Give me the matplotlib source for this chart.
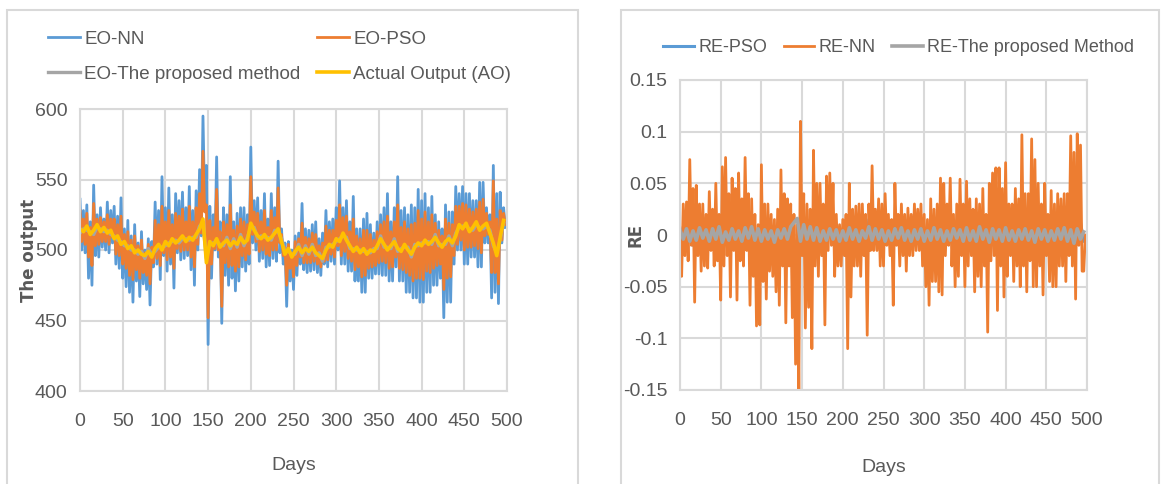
import numpy as np
import matplotlib
matplotlib.use("Agg")
import matplotlib.pyplot as plt
from matplotlib.patches import Rectangle

# smooth series read every 4 days (0, 4, ..., 496)
ao = [515, 513, 517, 511, 514, 518, 513, 516, 512, 514, 508, 510, 504, 506, 501, 503, 498, 500, 497, 496,
      499, 495, 501, 504, 500, 506, 503, 508, 505, 507, 510, 506, 509, 507, 511, 515, 522, 491, 506, 503,
      508, 502, 505, 507, 503, 506, 504, 509, 505, 507, 519, 514, 510, 508, 511, 507, 509, 512, 515, 506,
      497, 501, 495, 499, 502, 498, 501, 499, 502, 498, 496, 494, 500, 504, 502, 508, 506, 512, 507, 503,
      499, 502, 498, 501, 497, 500, 499, 503, 508, 504, 500, 503, 506, 501, 499, 504, 500, 497, 502, 505,
      503, 507, 504, 506, 509, 505, 502, 506, 508, 505, 510, 518, 515, 519, 513, 516, 520, 514, 517, 519,
      512, 505, 496, 509, 521]
eo_prop = [512, 515, 514, 513, 511, 516, 515, 513, 514, 511, 510, 507, 506, 503, 503, 500, 500, 497, 499, 494,
           501, 497, 499, 502, 502, 503, 505, 506, 507, 505, 508, 508, 507, 509, 509, 517, 519, 494, 504, 505,
           506, 504, 503, 509, 501, 508, 502, 511, 503, 509, 516, 516, 508, 510, 509, 509, 507, 514, 513, 508,
           499, 499, 497, 497, 504, 496, 503, 497, 504, 496, 498, 492, 502, 502, 504, 506, 508, 510, 509, 501,
           501, 500, 500, 499, 499, 498, 501, 501, 510, 502, 502, 501, 508, 499, 501, 502, 502, 495, 504, 503,
           505, 505, 506, 504, 511, 503, 504, 504, 510, 503, 512, 516, 517, 517, 515, 514, 518, 516, 515, 517,
           514, 503, 498, 507, 519]

# spiky series read every 2 days (0, 2, ..., 498)
eo_nn = [536, 500, 528, 498, 532, 480, 520, 475, 546, 496, 525, 495, 530, 502, 522, 500, 534, 498, 528, 505,
         531, 490, 524, 487, 537, 480, 515, 474, 521, 470, 510, 463, 518, 478, 505, 467, 513, 476, 500, 472,
         508, 461, 506, 488, 534, 490, 528, 479, 552, 496, 530, 485, 544, 490, 525, 473, 540, 498, 535, 493,
         541, 494, 530, 496, 545, 486, 528, 475, 542, 500, 557, 510, 595, 530, 560, 433, 531, 480, 525, 500,
         566, 495, 520, 448, 530, 482, 525, 475, 552, 480, 520, 471, 526, 478, 530, 488, 530, 485, 525, 490,
         573, 505, 535, 500, 537, 492, 528, 494, 540, 488, 522, 489, 540, 494, 530, 492, 563, 498, 515, 490,
         505, 460, 506, 478, 500, 472, 510, 482, 512, 490, 533, 486, 515, 484, 514, 485, 518, 486, 520, 484,
         508, 482, 512, 490, 528, 488, 520, 492, 522, 490, 530, 500, 549, 490, 530, 490, 535, 485, 520, 485,
         538, 478, 515, 478, 515, 470, 522, 470, 526, 480, 518, 480, 512, 483, 520, 483, 525, 482, 530, 482,
         540, 478, 520, 478, 530, 488, 552, 478, 528, 478, 530, 470, 525, 470, 532, 466, 530, 466, 543, 463,
         535, 463, 540, 470, 530, 470, 538, 475, 525, 475, 520, 480, 515, 452, 532, 463, 527, 463, 527, 490,
         545, 500, 540, 500, 545, 490, 540, 490, 540, 495, 535, 495, 535, 488, 548, 488, 548, 505, 530, 505,
         525, 466, 560, 470, 540, 462, 541, 505, 530, 516]
eo_pso = [528, 506, 522, 504, 526, 495, 516, 489, 533, 503, 522, 504, 523, 506, 520, 506, 525, 504, 522, 509,
          522, 497, 518, 496, 524, 490, 511, 487, 513, 482, 507, 479, 510, 486, 503, 480, 507, 484, 498, 482,
          504, 476, 502, 491, 521, 494, 518, 489, 531, 498, 520, 493, 528, 495, 518, 487, 526, 501, 524, 499,
          529, 500, 520, 500, 531, 495, 520, 488, 530, 504, 540, 512, 570, 527, 532, 452, 521, 490, 516, 501,
          543, 500, 513, 460, 520, 491, 518, 488, 532, 489, 514, 485, 517, 488, 522, 496, 520, 493, 518, 497,
          552, 511, 527, 506, 526, 499, 520, 500, 528, 497, 516, 496, 528, 500, 523, 500, 544, 505, 511, 496,
          502, 475, 504, 487, 498, 481, 506, 489, 508, 495, 519, 491, 509, 491, 508, 491, 512, 492, 511, 490,
          503, 488, 505, 492, 517, 493, 514, 497, 514, 495, 521, 503, 532, 496, 523, 499, 524, 494, 513, 492,
          522, 486, 510, 488, 508, 481, 514, 482, 514, 487, 511, 488, 507, 489, 513, 491, 518, 492, 520, 491,
          524, 487, 513, 488, 520, 495, 532, 487, 516, 486, 520, 484, 515, 482, 518, 478, 519, 480, 528, 480,
          522, 479, 527, 485, 520, 484, 525, 487, 519, 489, 514, 490, 510, 472, 522, 480, 519, 481, 518, 496,
          531, 504, 531, 507, 533, 500, 532, 502, 529, 502, 527, 503, 529, 501, 534, 498, 536, 510, 526, 511,
          520, 484, 549, 484, 522, 476, 528, 507, 526, 518]
re_nn = [-0.030, -0.040, 0.030, -0.020, 0.032, -0.025, 0.073, -0.010, 0.045, -0.065, 0.048, -0.020, 0.030,
         -0.035, 0.030, -0.030, 0.020, -0.032, 0.042, -0.015, 0.025, -0.030, 0.050, -0.025, 0.020, -0.063,
         0.066, -0.030, 0.075, -0.020, 0.040, -0.060, 0.055, -0.015, 0.045, -0.063, 0.060, -0.025, 0.035,
         -0.030, 0.075, -0.015, 0.040, -0.068, 0.035, -0.040, 0.020, -0.088, 0.010, -0.087, 0.068, -0.045,
         0.030, -0.062, 0.030, -0.035, 0.020, -0.040, 0.015, -0.055, 0.025, -0.068, 0.063, -0.030, 0.040,
         -0.085, 0.035, -0.030, 0.030, -0.080, 0.020, -0.125, 0.010, -0.150, 0.110, -0.020, 0.040, -0.090,
         0.030, -0.070, 0.025, -0.110, 0.082, -0.030, 0.050, -0.040, 0.050, -0.020, 0.030, -0.087, 0.057,
         -0.015, 0.060, -0.010, 0.050, -0.040, 0.020, -0.030, 0.010, -0.030, 0.015, -0.020, 0.020, -0.110,
         0.050, -0.060, 0.025, -0.030, 0.028, -0.030, 0.030, -0.040, 0.030, -0.020, 0.020, -0.097, 0.030,
         -0.015, 0.067, -0.015, 0.025, -0.015, 0.035, -0.030, 0.030, -0.030, 0.040, -0.010, 0.020, -0.020,
         0.015, -0.068, 0.050, -0.010, 0.020, -0.030, 0.030, -0.020, 0.020, -0.035, 0.026, -0.020, 0.020,
         -0.020, 0.030, -0.015, 0.025, -0.015, 0.030, -0.030, 0.020, -0.050, 0.015, -0.068, 0.035, -0.045,
         0.025, -0.045, 0.030, -0.055, 0.055, -0.058, 0.050, -0.020, 0.030, -0.010, 0.055, -0.030, 0.020,
         -0.050, 0.030, -0.040, 0.054, -0.020, 0.030, -0.050, 0.052, -0.030, 0.035, -0.020, 0.025, -0.055,
         0.035, -0.040, 0.030, -0.050, 0.045, -0.030, 0.020, -0.094, 0.050, -0.025, 0.060, -0.020, 0.065,
         -0.073, 0.065, -0.030, 0.045, -0.060, 0.070, -0.040, 0.030, -0.020, 0.030, -0.045, 0.045, -0.030,
         0.035, -0.050, 0.097, -0.030, 0.040, -0.055, 0.040, -0.025, 0.093, -0.050, 0.073, -0.050, 0.050,
         -0.030, 0.030, -0.058, 0.050, -0.020, 0.020, -0.045, 0.043, -0.050, 0.030, -0.050, 0.040, -0.030,
         0.035, -0.030, 0.040, -0.045, 0.040, -0.020, 0.096, -0.030, 0.080, -0.062, 0.098, -0.010, 0.087,
         -0.035, -0.035, 0.000]

# small relative errors read every 4 days
re_pso = [-0.025, 0.008, -0.006, 0.012, -0.010, 0.009, -0.007, 0.006, -0.008, 0.010, -0.006, 0.008, -0.010,
          0.011, 0.013, -0.009, 0.010, -0.010, 0.011, -0.005, 0.012, -0.011, 0.006, -0.015, -0.020, 0.011,
          -0.010, 0.005, -0.008, 0.003, -0.012, 0.010, -0.020, 0.006, -0.013, -0.010, -0.025, 0.018, -0.015,
          0.005, 0.015, 0.012, -0.008, 0.008, -0.012, 0.018, 0.022, -0.007, 0.004, -0.005, -0.004, -0.020,
          0.009, -0.005, 0.005, -0.007, 0.005, -0.012, 0.015, 0.011, -0.003, 0.006, -0.005, 0.007, -0.002,
          -0.011, 0.008, -0.005, 0.005, -0.006, 0.004, -0.003, 0.005, -0.003, 0.005, -0.008, -0.011, 0.006,
          -0.007, -0.009, 0.009, 0.008, -0.002, 0.009, -0.008, 0.005, 0.009, -0.008, 0.025, 0.012, -0.009,
          0.006, -0.008, 0.007, -0.015, 0.008, 0.022, -0.012, 0.011, -0.010, 0.011, -0.003, 0.005, 0.007,
          -0.008, 0.016, -0.009, 0.007, 0.015, -0.008, -0.010, -0.010, 0.008, -0.003, 0.007, -0.008, 0.007,
          -0.005, -0.007, 0.007, 0.016, 0.030, 0.020, 0.012, -0.006]
re_prop = [0.005, -0.004, 0.006, -0.006, 0.004, -0.005, 0.007, -0.003, 0.005, -0.006, 0.006, -0.004, 0.008,
           -0.007, 0.003, -0.005, 0.006, -0.004, 0.004, -0.006, 0.007, -0.003, 0.008, -0.005, 0.006, -0.006,
           0.005, -0.004, 0.004, -0.007, 0.005, -0.003, 0.006, -0.004, 0.008, 0.012, 0.016, -0.006, 0.010,
           -0.004, 0.008, -0.005, 0.007, -0.006, 0.004, -0.005, 0.006, -0.004, 0.005, -0.006, 0.004, -0.005,
           0.007, -0.004, 0.005, -0.006, 0.004, -0.003, 0.008, -0.005, 0.006, -0.004, 0.005, -0.006, 0.004,
           -0.005, 0.006, -0.003, 0.007, -0.005, 0.004, -0.006, 0.005, -0.004, 0.006, -0.006, 0.004, -0.005,
           0.007, -0.004, 0.005, -0.006, 0.004, -0.005, 0.006, -0.003, 0.005, -0.006, 0.007, -0.005, 0.004,
           -0.006, 0.008, -0.004, 0.005, -0.007, 0.006, -0.004, 0.005, -0.006, 0.007, -0.005, 0.004, -0.006,
           0.005, -0.004, 0.006, -0.005, 0.004, -0.007, 0.006, -0.004, 0.005, -0.006, 0.004, -0.005, 0.006,
           -0.004, 0.007, -0.006, 0.005, -0.008, 0.006, -0.004, 0.003]

left_yticks = [400, 450, 500, 550, 600]
right_yticks = [-0.15, -0.1, -0.05, 0, 0.05, 0.1, 0.15]
right_ylabels = ["-0.15", "-0.1", "-0.05", "0", "0.05", "0.1", "0.15"]
xticks = list(range(0, 501, 50))

BLUE, ORANGE, GRAY, YELLOW = "#5B9BD5", "#ED7D31", "#A5A5A5", "#FFC000"
GRID = "#d9d9d9"
TXT = "#595959"
FONT = ["Liberation Sans", "DejaVu Sans"]
W, H = 1165, 484


def days(series, step):
    return step * np.arange(len(series))


def style(ax, days_y):
    ax.set_xlim(0, 500)
    ax.set_xticks(xticks)
    ax.grid(True, color=GRID, lw=1.5)
    ax.set_axisbelow(True)
    for s in ax.spines.values():
        s.set_color(GRID)
        s.set_linewidth(1.5)
    ax.tick_params(length=0, labelsize=14, labelcolor=TXT)
    ax.tick_params(axis="x", pad=16)
    ax.tick_params(axis="y", pad=9)
    for lab in ax.get_xticklabels() + ax.get_yticklabels():
        lab.set_family(FONT)
    ax.set_xlabel("Days", fontsize=14, color=TXT, family=FONT)
    ax.xaxis.label.set_va("center")
    ax.xaxis.set_label_coords(0.5, days_y)


def legend(handles, x, y, size=13.5, **kw):
    return fig.legend(handles, [h.get_label() for h in handles], loc="upper left",
                      bbox_to_anchor=(x / W, 1 - y / H), frameon=False,
                      prop={"family": FONT, "size": size}, labelcolor=TXT, handlelength=1.7,
                      handletextpad=0.25, borderpad=0.4, **kw)


fig = plt.figure(figsize=(W / 100, H / 100), dpi=100)
fig.add_artist(Rectangle((7 / W, -0.01), 571 / W, 1 - 10 / H + 0.01, transform=fig.transFigure,
                         fill=False, ec=GRID, lw=1.5))
fig.add_artist(Rectangle((621 / W, -0.01), 538 / W, 1 - 10 / H + 0.01, transform=fig.transFigure,
                         fill=False, ec=GRID, lw=1.5))

# left chart
ax1 = fig.add_axes([80 / W, 1 - 391 / H, 427 / W, 282 / H])
l_nn, = ax1.plot(days(eo_nn, 2), eo_nn, color=BLUE, lw=2.0, label="EO-NN")
l_pso, = ax1.plot(days(eo_pso, 2), eo_pso, color=ORANGE, lw=2.0, label="EO-PSO")
l_prop, = ax1.plot(days(eo_prop, 4), eo_prop, color=GRAY, lw=2.4, label="EO-The proposed method")
l_ao, = ax1.plot(days(ao, 4), ao, color=YELLOW, lw=2.6, label="Actual Output (AO)")
ax1.set_ylim(400, 600)
ax1.set_yticks(left_yticks)
style(ax1, (391 - 465) / 282)
ax1.set_ylabel("The output", fontsize=12, fontweight="bold", color=TXT, family="DejaVu Sans")
ax1.yaxis.label.set_va("center")
ax1.yaxis.set_label_coords((29 - 80) / 427, 0.5)
legend([l_nn, l_prop], 31, 14, labelspacing=0.93)
legend([l_pso, l_ao], 300, 14, labelspacing=0.93)

# right chart
ax2 = fig.add_axes([680 / W, 1 - 390 / H, 407 / W, 310 / H])
r_pso, = ax2.plot(days(re_pso, 4), re_pso, color=BLUE, lw=2.2, label="RE-PSO")
r_nn, = ax2.plot(days(re_nn, 2), re_nn, color=ORANGE, lw=2.0, label="RE-NN")
r_prop, = ax2.plot(days(re_prop, 4), re_prop, color=GRAY, lw=2.6, label="RE-The proposed Method")
ax2.set_ylim(-0.15, 0.15)
ax2.set_yticks(right_yticks)
ax2.set_yticklabels(right_ylabels)
style(ax2, (390 - 467) / 310)
ax2.set_ylabel("RE", fontsize=12, fontweight="bold", color=TXT, family="DejaVu Sans")
ax2.yaxis.label.set_va("center")
ax2.yaxis.set_label_coords((635 - 680) / 407, 0.5)
legend([r_pso, r_nn, r_prop], 647, 23, size=13, ncol=3, columnspacing=0.9)

fig.savefig("out.png", dpi=100)
